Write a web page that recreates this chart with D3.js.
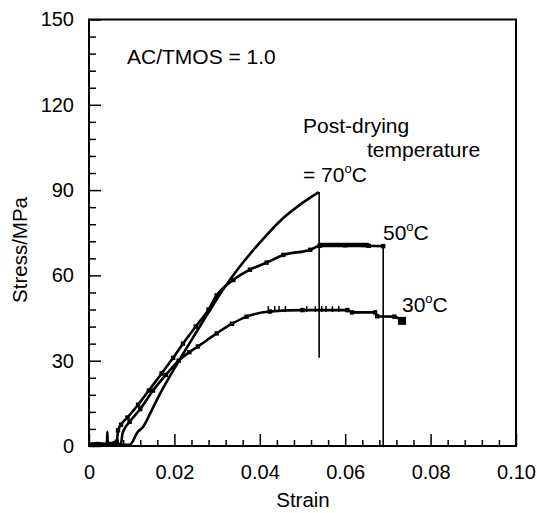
<!DOCTYPE html>
<html>
<head>
<meta charset="utf-8">
<script src="https://cdn.jsdelivr.net/npm/d3@7"></script>
<style>
  body { margin: 0; background: #fff; }
  text { font-family: "Liberation Sans", Arial, sans-serif; fill: #000; }
</style>
</head>
<body>
<svg width="537" height="513"></svg>
<script>
// [strain, stress MPa]
var curve70 = [[0,0.5],[0.004,0.5],[0.0095,0.4],[0.0102,1.5],[0.0112,4.5],[0.0127,6.8],[0.0145,12],
  [0.0165,18],[0.0197,26.5],[0.0245,38.5],[0.028,47],[0.0314,55],[0.035,62.5],[0.04,71.5],
  [0.045,79.5],[0.05,85.5],[0.0538,89.3]];
var curve50 = [[0,0.8],[0.002,1],[0.0042,0.8],[0.0043,5],[0.0044,1],[0.006,1],[0.0065,1.5],[0.0068,5.5],
  [0.0075,7.5],[0.009,10],[0.0115,14.5],[0.014,19.5],[0.017,25.5],[0.0197,31],[0.022,36],[0.025,42],
  [0.028,48],[0.0299,53],[0.0338,58.4],[0.0377,62],[0.0416,64.5],[0.0455,67.2],[0.0518,69],
  [0.054,70.4],[0.06,70.6],[0.0655,70.4],[0.0689,70.3]];
var curve30 = [[0,0.5],[0.004,0.5],[0.0075,0.8],[0.0078,4],[0.0085,6.5],[0.0095,8.5],[0.012,13],
  [0.015,19.5],[0.018,25],[0.021,30],[0.0235,33],[0.0255,35],[0.0299,39.6],[0.0335,43],[0.0369,45.5],
  [0.0424,47.3],[0.05,47.8],[0.0605,47.8],[0.0616,47],[0.067,47],[0.0675,45.6],[0.0715,45.5],[0.0733,44]];
var drop70 = [[0.0539,89.3],[0.0539,31]];
var drop50 = [[0.0689,70.3],[0.0689,0]];
var ticks30 = [0.042,0.0435,0.0445,0.046,0.051,0.053,0.0545,0.0555,0.057,0.0585];

var xTicks = [0,0.02,0.04,0.06,0.08,0.1];
var xLabels = ["0","0.02","0.04","0.06","0.08","0.10"];
var yTicks = [0,30,60,90,120,150];

var svg = d3.select("svg");
var x = d3.scaleLinear().domain([0,0.1]).range([89,516]);
var y = d3.scaleLinear().domain([0,150]).range([446,19.5]);

var xMinor = d3.range(0,0.1001,0.004).filter(function(v){ return Math.abs(v/0.02 - Math.round(v/0.02)) > 0.01; });
var yMinor = d3.range(0,151,6).filter(function(v){ return v % 30 != 0; });

// minor ticks
svg.append("g").attr("transform","translate(0,446)")
  .call(d3.axisBottom(x).tickValues(xMinor).tickSizeInner(-6).tickSizeOuter(0).tickFormat(""));
svg.append("g").attr("transform","translate(89,0)")
  .call(d3.axisLeft(y).tickValues(yMinor).tickSizeInner(-7).tickSizeOuter(0).tickFormat(""));

// major ticks
svg.append("g").attr("transform","translate(0,446)")
  .call(d3.axisBottom(x).tickValues(xTicks).tickSizeInner(-12).tickSizeOuter(0).tickPadding(19)
    .tickFormat(function(d,i){ return xLabels[i]; }));
svg.append("g").attr("transform","translate(89,0)")
  .call(d3.axisLeft(y).tickValues(yTicks).tickSizeInner(-12).tickSizeOuter(0).tickPadding(15)
    .tickFormat(d3.format("d")));
svg.selectAll(".tick line").attr("stroke","#000").attr("stroke-width",1.5);
svg.selectAll(".domain").remove();
svg.selectAll(".tick text").attr("font-size","20px").attr("font-family","'Liberation Sans', Arial, sans-serif");

// frame
svg.append("rect").attr("x",89).attr("y",19.5).attr("width",427).attr("height",426.5)
  .attr("fill","none").attr("stroke","#000").attr("stroke-width",2);

var line = d3.line().x(function(d){ return x(d[0]); }).y(function(d){ return y(d[1]); });
var smooth = d3.line().curve(d3.curveMonotoneX).x(function(d){ return x(d[0]); }).y(function(d){ return y(d[1]); });

// drops
[drop70, drop50].forEach(function(d){
  svg.append("path").attr("d",line(d)).attr("fill","none").attr("stroke","#000").attr("stroke-width",1.6);
});

svg.append("path").attr("d",smooth(curve70)).attr("fill","none").attr("stroke","#000").attr("stroke-width",2.6);
[curve50, curve30].forEach(function(c){
  svg.append("path").attr("d",smooth(c)).attr("fill","none").attr("stroke","#000").attr("stroke-width",2.6);
  svg.append("g").selectAll("rect").data(c.slice(5)).enter().append("rect")
    .attr("x",function(d){ return x(d[0])-2.2; }).attr("y",function(d){ return y(d[1])-2.2; })
    .attr("width",4.4).attr("height",4.4).attr("fill","#000");
});
// plateau of 50: thick band
svg.append("rect").attr("x",x(0.054)).attr("y",y(70.6)-2.5).attr("width",x(0.0655)-x(0.054)).attr("height",4.5).attr("fill","#000");
// small ticks on 30 plateau
svg.append("g").selectAll("line").data(ticks30).enter().append("line")
  .attr("x1",function(d){ return x(d); }).attr("x2",function(d){ return x(d); })
  .attr("y1",y(47.8)-4).attr("y2",y(47.8)+2).attr("stroke","#000").attr("stroke-width",1.5);
// end marker of 30
var last30 = curve30[curve30.length-1];
svg.append("rect").attr("x",x(last30[0])-4).attr("y",y(last30[1])-4).attr("width",8).attr("height",8).attr("fill","#000");

// axis titles
svg.append("text").attr("x",303).attr("y",507).attr("text-anchor","middle").attr("font-size","20.5px").text("Strain");
svg.append("text").attr("transform","translate(27,250) rotate(-90)").attr("text-anchor","middle")
  .attr("font-size","20.5px").text("Stress/MPa");

// annotations
function degLabel(px, py, pre, num) {
  var t = svg.append("text").attr("x",px).attr("y",py).attr("font-size","21px");
  t.append("tspan").text(pre + num);
  t.append("tspan").attr("font-size","13px").attr("dy",-9).text("o");
  t.append("tspan").attr("dy",9).text("C");
}
svg.append("text").attr("x",127).attr("y",64).attr("font-size","21px").text("AC/TMOS = 1.0");
svg.append("text").attr("x",303).attr("y",133).attr("font-size","21px").text("Post-drying");
svg.append("text").attr("x",367).attr("y",157).attr("font-size","21px").text("temperature");
degLabel(303, 182, "= ", "70");
degLabel(383, 240, "", "50");
degLabel(402, 312, "", "30");
</script>
</body>
</html>
